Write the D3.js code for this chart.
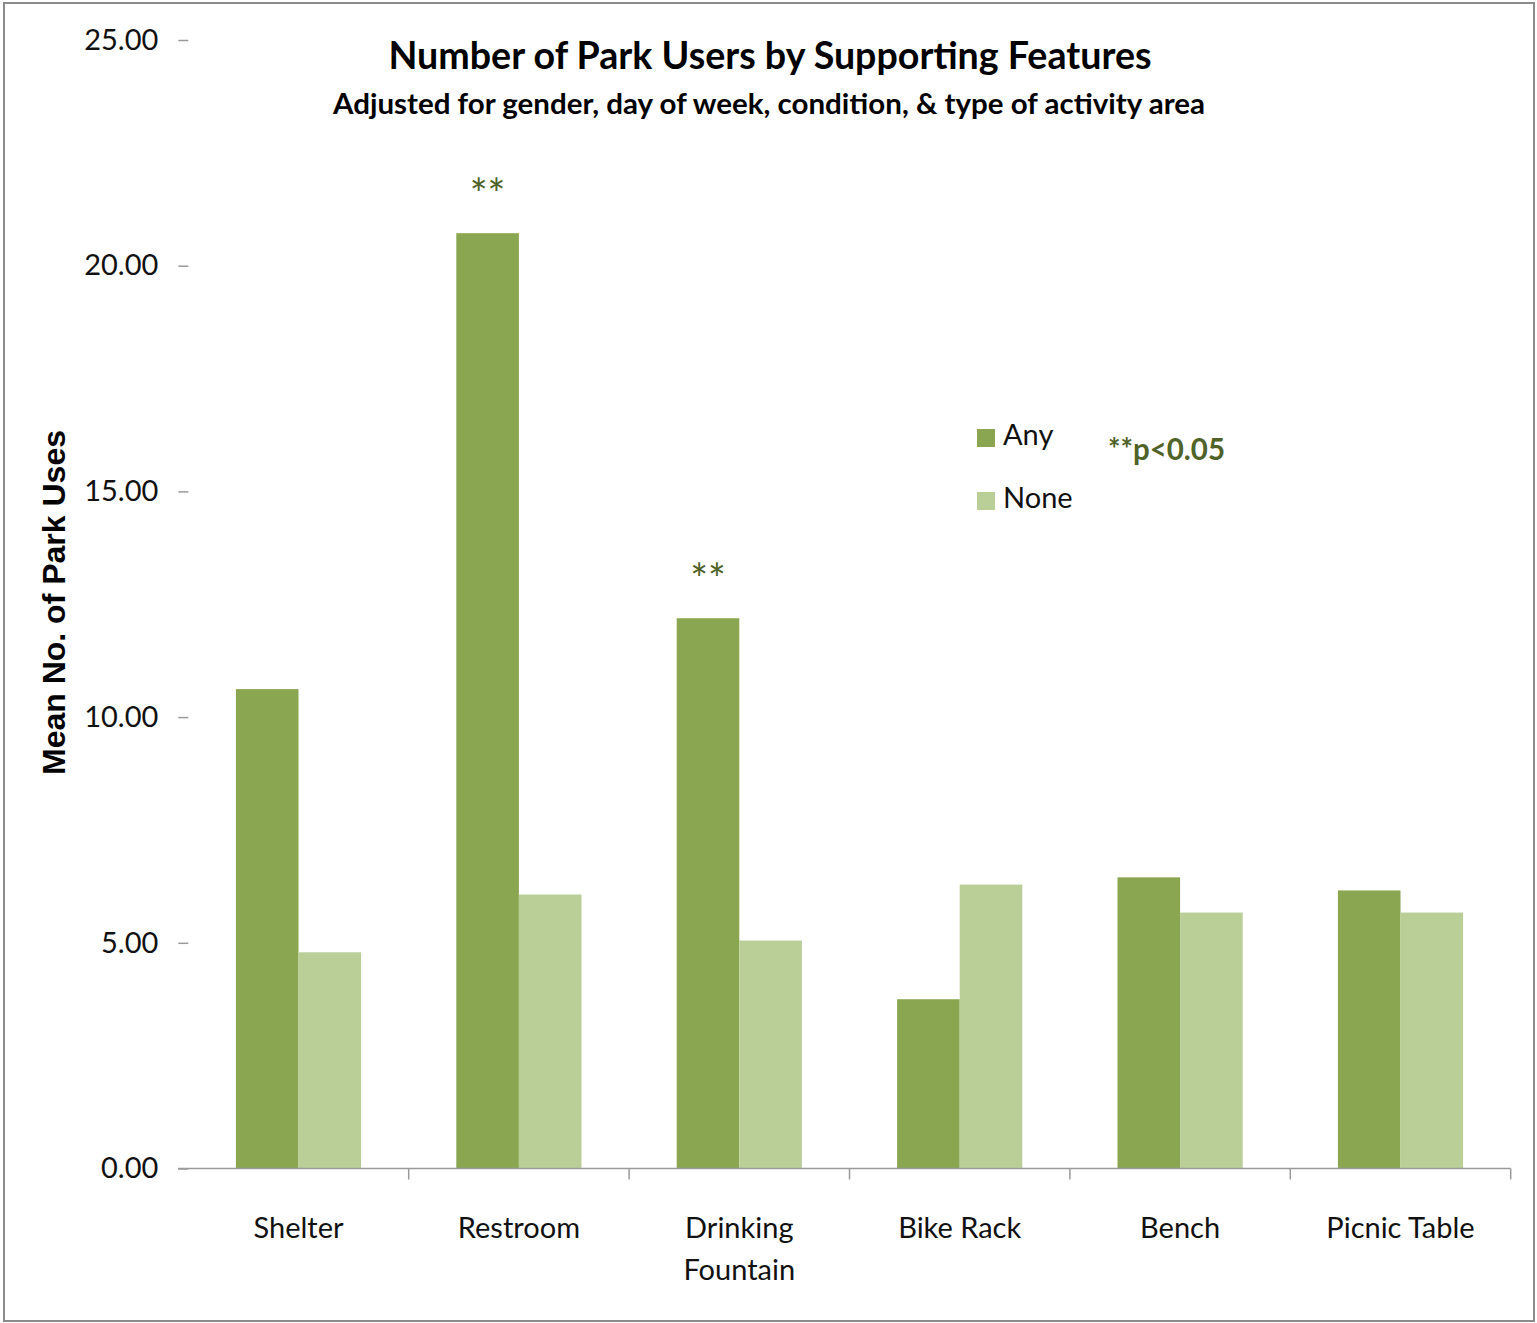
<!DOCTYPE html>
<html>
<head>
<meta charset="utf-8">
<script src="https://cdn.jsdelivr.net/npm/d3@7"></script>
<style>
  html, body { margin: 0; padding: 0; background: #fff; }
  svg { display: block; }
</style>
</head>
<body>
<script>
const categories = ["Shelter", "Restroom", "Drinking Fountain", "Bike Rack", "Bench", "Picnic Table"];
const categoryLines = [["Shelter"], ["Restroom"], ["Drinking", "Fountain"], ["Bike Rack"], ["Bench"], ["Picnic Table"]];
const seriesNames = ["Any", "None"];
const anyValues = [10.62, 20.72, 12.19, 3.75, 6.45, 6.16];
const noneValues = [4.79, 6.07, 5.05, 6.29, 5.67, 5.67];
const significant = [false, true, true, false, false, false];
const yTicks = [0, 5, 10, 15, 20, 25];
const titleText = "Number of Park Users by Supporting Features";
const subtitleText = "Adjusted for gender, day of week, condition, & type of activity area";
const yTitleText = "Mean No. of Park Uses";
const noteText = "**p<0.05";

const W = 1537, H = 1323;
const colors = { Any: "#8AA650", None: "#BACF98" };
const sigColor = "#4F6228";

const svg = d3.select("body").append("svg").attr("width", W).attr("height", H);

// frame
svg.append("rect").attr("x", 4).attr("y", 3).attr("width", 1530).attr("height", 1318)
  .attr("fill", "#fff").attr("stroke", "#8c8c8c").attr("stroke-width", 2);

const plotLeft = 188.3, plotRight = 1510.7, plotTop = 40, plotBottom = 1168.5;

const x = d3.scaleBand().domain(categories).range([plotLeft, plotRight]).paddingInner(0).paddingOuter(0);
const y = d3.scaleLinear().domain([0, 25]).range([plotBottom, plotTop]);
const groupFrac = 0.568;
const x1 = d3.scaleBand().domain(seriesNames).range([0, x.bandwidth() * groupFrac]);
const groupOffset = (x.bandwidth() - x.bandwidth() * groupFrac) / 2;

const rows = categories.map((c, i) => ({ cat: c, Any: anyValues[i], None: noneValues[i], sig: significant[i] }));

// bars
const g = svg.append("g");
const groups = g.selectAll("g.cat").data(rows).join("g")
  .attr("class", "cat")
  .attr("transform", d => `translate(${x(d.cat) + groupOffset},0)`);
groups.selectAll("rect").data(d => seriesNames.map(s => ({ s, v: d[s] }))).join("rect")
  .attr("x", d => x1(d.s))
  .attr("width", x1.bandwidth())
  .attr("y", d => y(d.v))
  .attr("height", d => y(0) - y(d.v))
  .attr("fill", d => colors[d.s]);

// significance markers
groups.filter(d => d.sig).append("text")
  .attr("x", x1("Any") + x1.bandwidth() / 2)
  .attr("y", d => y(d.Any) - 24)
  .attr("text-anchor", "middle")
  .attr("font-family", "Lato, sans-serif")
  .attr("font-size", 42)
  .attr("fill", sigColor)
  .text("**");

// y axis
const yAxis = d3.axisLeft(y).tickValues(yTicks).tickFormat(d3.format(".2f")).tickSize(10).tickPadding(20);
const yg = svg.append("g").attr("transform", `translate(${plotLeft},0)`).call(yAxis);
yg.select(".domain").remove();
yg.selectAll(".tick line").attr("stroke", "#9a9a9a").attr("stroke-width", 1.5);
yg.selectAll(".tick text").attr("font-family", "Lato, sans-serif").attr("font-size", 29).attr("fill", "#111");

// x axis line and ticks
svg.append("line").attr("x1", 178).attr("x2", plotRight).attr("y1", plotBottom).attr("y2", plotBottom)
  .attr("stroke", "#9a9a9a").attr("stroke-width", 1.5);
svg.selectAll("line.xtick").data(categories).join("line").attr("class", "xtick")
  .attr("x1", d => x(d) + x.bandwidth()).attr("x2", d => x(d) + x.bandwidth())
  .attr("y1", plotBottom).attr("y2", plotBottom + 11)
  .attr("stroke", "#9a9a9a").attr("stroke-width", 1.5);

// category labels
const xl = svg.selectAll("text.xlab").data(categories).join("text").attr("class", "xlab")
  .attr("x", d => x(d) + x.bandwidth() / 2)
  .attr("y", 1238)
  .attr("text-anchor", "middle")
  .attr("font-family", "Lato, sans-serif")
  .attr("font-size", 29)
  .attr("fill", "#111");
xl.each(function(d, i) {
  const t = d3.select(this);
  categoryLines[i].forEach((line, j) => {
    t.append("tspan").attr("x", x(d) + x.bandwidth() / 2).attr("dy", j === 0 ? 0 : 42).text(line);
  });
});

// titles
svg.append("text").attr("x", 770).attr("y", 69).attr("text-anchor", "middle")
  .attr("font-family", "Lato, sans-serif").attr("font-weight", "bold").attr("font-size", 38)
  .attr("textLength", 763).attr("lengthAdjust", "spacingAndGlyphs")
  .attr("fill", "#000").text(titleText);
svg.append("text").attr("x", 769).attr("y", 114).attr("text-anchor", "middle")
  .attr("font-family", "Lato, sans-serif").attr("font-weight", "bold").attr("font-size", 28)
  .attr("textLength", 872).attr("lengthAdjust", "spacingAndGlyphs")
  .attr("fill", "#000").text(subtitleText);

// y title
svg.append("text").attr("transform", "translate(65,602.5) rotate(-90)")
  .attr("text-anchor", "middle")
  .attr("font-family", "'Liberation Sans', Arial, sans-serif").attr("font-weight", "bold").attr("font-size", 32)
  .attr("fill", "#000").text(yTitleText);

// legend
const legend = svg.append("g");
const legItems = legend.selectAll("g").data(seriesNames).join("g")
  .attr("transform", (d, i) => `translate(977,${429 + i * 63})`);
legItems.append("rect").attr("width", 18).attr("height", 18).attr("fill", d => colors[d]);
legItems.append("text").attr("x", 26).attr("y", 16).attr("font-family", "Lato, sans-serif")
  .attr("font-size", 29).attr("fill", "#111").text(d => d);

svg.append("text").attr("x", 1108).attr("y", 460)
  .attr("font-family", "Lato, sans-serif").attr("font-weight", "bold").attr("font-size", 30)
  .attr("textLength", 117).attr("lengthAdjust", "spacingAndGlyphs")
  .attr("fill", sigColor).text(noteText);
</script>
</body>
</html>
